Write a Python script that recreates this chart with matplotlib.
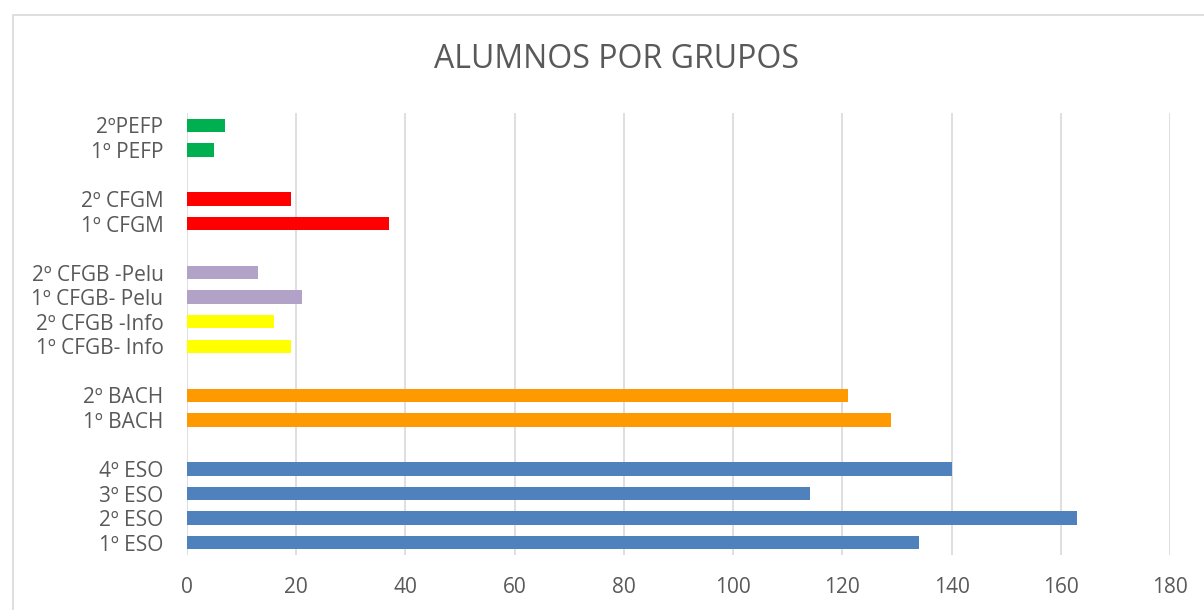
import numpy as np
import matplotlib.pyplot as plt
from matplotlib.patches import Rectangle

# Categories from bottom to top, blank entries are the gaps between groups
labels = ['1º ESO', '2º ESO', '3º ESO', '4º ESO', '',
          '1º BACH', '2º BACH', '',
          '1º CFGB- Info', '2º CFGB -Info', '1º CFGB- Pelu', '2º CFGB -Pelu', '',
          '1º CFGM', '2º CFGM', '',
          '1º PEFP', '2ºPEFP']
values = [134, 163, 114, 140, np.nan,
          129, 121, np.nan,
          19, 16, 21, 13, np.nan,
          37, 19, np.nan,
          5, 7]
colors = ['#4F81BD'] * 5 + ['#FF9900'] * 3 + ['#FFFF00', '#FFFF00', '#B3A2C7', '#B3A2C7', '#FFFFFF'] \
         + ['#FF0000'] * 3 + ['#00B050'] * 2
xticks = [0, 20, 40, 60, 80, 100, 120, 140, 160, 180]

plt.rcParams['font.family'] = ['Open Sans', 'DejaVu Sans']
text_color = '#595959'

fig = plt.figure(figsize=(12.04, 6.10), dpi=100)
W, H = 1204, 610
ax = fig.add_axes([187 / W, 1 - 555 / H, (1170 - 187) / W, (555 - 113) / H])

# chart border (image is cropped on right and bottom)
fig.patches.append(Rectangle((12.5 / W, -0.1), 1.2, 1 - 14.5 / H + 0.1, transform=fig.transFigure,
                             fill=False, edgecolor='#D9D9D9', linewidth=1.2))

y = np.arange(len(labels))
ax.barh(y, values, height=0.55, color=colors, edgecolor='none', zorder=3)

ax.set_xlim(0, 180)
ax.set_ylim(-0.5, len(labels) - 0.5)
ax.set_xticks(xticks)
ax.set_yticks(y)
ax.set_yticklabels(labels)
ax.tick_params(axis='both', length=0, colors=text_color, labelsize=15)
ax.tick_params(axis='y', pad=17)
ax.tick_params(axis='x', pad=16)
ax.grid(axis='x', color='#D9D9D9', linewidth=1.2, zorder=0)
for s in ax.spines.values():
    s.set_visible(False)

fig.text(616 / W, 1 - 60 / H, 'ALUMNOS POR GRUPOS', ha='center', va='center',
         fontsize=23, color=text_color)

fig.savefig('out.png', dpi=100)
